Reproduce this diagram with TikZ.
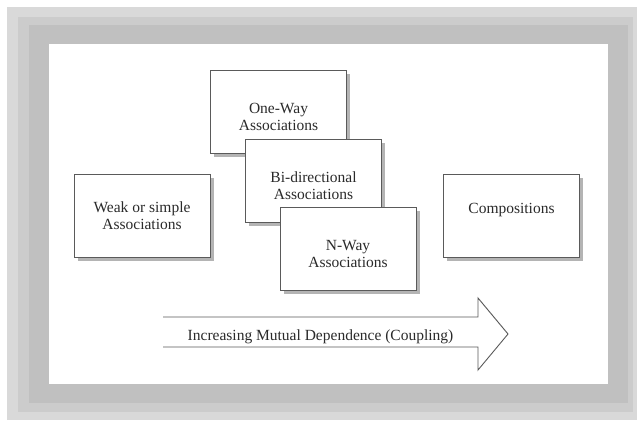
\documentclass[tikz,border=0pt]{standalone}
\usepackage{fontspec}
\setmainfont{Liberation Serif}
\usetikzlibrary{shadows}
\definecolor{bandA}{HTML}{D9D9D9}
\definecolor{bandB}{HTML}{CCCCCC}
\definecolor{bandC}{HTML}{C0C0C0}
\definecolor{edge}{HTML}{5A5A5A}
\definecolor{shade}{HTML}{B4B4B4}
\definecolor{ink}{HTML}{2A2A2A}
\tikzset{
  box/.style={draw=edge, line width=0.9pt, fill=white, minimum width=136pt, minimum height=83pt,
    inner sep=0pt,
    drop shadow={shadow xshift=3.5pt, shadow yshift=-3.5pt, fill=shade, opacity=1}},
  txt/.style={align=center, text=ink, font=\fontsize{15.5}{17}\selectfont, inner sep=0pt},
  bigarrow/.style={draw=edge, line width=0.9pt, line join=miter}
}
\begin{document}
\begin{tikzpicture}[x=1pt,y=-1pt]
\useasboundingbox (0,0) rectangle (637,421);
\fill[white] (0,0) rectangle (637,421);
\fill[bandA] (7,7) rectangle (637,420);
\fill[bandB] (18,17) rectangle (633,412);
\fill[bandC] (29,25) rectangle (628,403);
\fill[white] (49,44) rectangle (608,384);

\node[box] (weak) at (142,215.5) {};
\node[txt] (weaktxt) at ([yshift=0pt]weak.center) {Weak or simple\\Associations};
\node[box] (oneway) at (278.5,111.5) {};
\node[txt] (onewaytxt) at ([yshift=-5pt]oneway.center) {One-Way\\Associations};
\node[box] (bidir) at (313.5,181) {};
\node[txt] (bidirtxt) at ([yshift=-4.5pt]bidir.center) {Bi-directional\\Associations};
\node[box] (nway) at (348,249) {};
\node[txt] (nwaytxt) at ([yshift=-4.5pt]nway.center) {N-Way\\Associations};
\node[box] (comp) at (511.5,215.5) {};
\node[txt] (comptxt) at ([yshift=5pt]comp.center) {Compositions};

\draw[bigarrow] (163,317) -- (478,317) -- (478,298) -- (508,334) -- (478,370) -- (478,347) -- (163,347);
\node[txt] (coupling) at (320.5,337) {Increasing Mutual Dependence (Coupling)};
\end{tikzpicture}
\end{document}
